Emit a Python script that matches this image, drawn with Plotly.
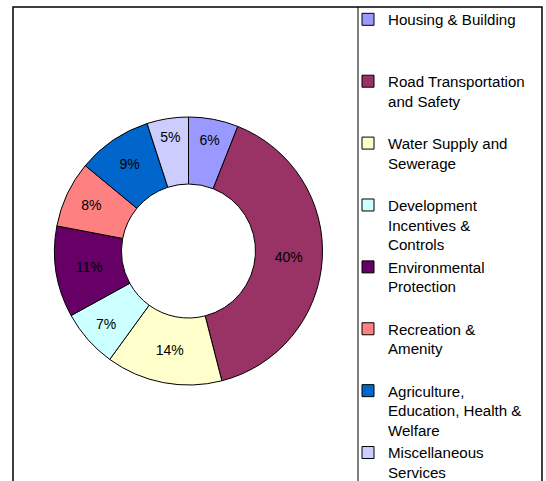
import plotly.graph_objects as go

# Data
categories = [
    "Housing & Building",
    "Road Transportation<br>and Safety",
    "Water Supply and<br>Sewerage",
    "Development<br>Incentives &<br>Controls",
    "Environmental<br>Protection",
    "Recreation &<br>Amenity",
    "Agriculture,<br>Education, Health &<br>Welfare",
    "Miscellaneous<br>Services",
]
shares = [6, 40, 14, 7, 11, 8, 9, 5]
colors = ["#9999FF", "#993366", "#FFFFCC", "#CCFFFF",
          "#660066", "#FF8080", "#0066CC", "#CCCCFF"]

W, H = 546, 481
FONT = "Liberation Sans, Arial, sans-serif"

# pad legend entries to equal slot height (3 lines), except the last one
legend_labels = []
for i, c in enumerate(categories):
    n = c.count("<br>") + 1
    pad = 0 if i == len(categories) - 1 else 3 - n
    legend_labels.append(c + "<br>\u00a0" * pad)

cx, cy, r = 188.5, 251, 134
fig = go.Figure(go.Pie(
    labels=legend_labels,
    values=shares,
    sort=False,
    direction="clockwise",
    rotation=0,
    hole=0.5,
    marker=dict(colors=colors, line=dict(color="black", width=1)),
    textinfo="percent",
    textposition="inside",
    insidetextorientation="horizontal",
    textfont=dict(family=FONT, size=14, color="black"),
    domain=dict(x=[(cx - r) / W, (cx + r) / W],
                y=[(H - cy - r) / H, (H - cy + r) / H]),
))

legend_cfg = dict(
    x=348 / W, xanchor="left",
    y=(H - 3) / H, yanchor="top",
    valign="top",
    font=dict(family=FONT, size=15.1, color="black"),
    bgcolor="rgba(0,0,0,0)",
    borderwidth=0,
    tracegroupgap=0,
)

fig.update_layout(
    width=W, height=H,
    margin=dict(l=0, r=0, t=0, b=0, autoexpand=False),
    paper_bgcolor="white",
    plot_bgcolor="white",
    showlegend=True,
    legend=legend_cfg,
    shapes=[
        dict(type="rect", xref="paper", yref="paper",
             x0=13 / W, x1=542 / W, y0=-0.2, y1=(H - 7) / H,
             line=dict(color="black", width=1.5), fillcolor="rgba(0,0,0,0)"),
        dict(type="line", xref="paper", yref="paper",
             x0=358 / W, x1=358 / W, y0=-0.2, y1=(H - 7) / H,
             line=dict(color="black", width=1)),
    ],
)
try:
    fig.update_layout(legend_maxheight=1000)
except Exception:
    pass

fig.write_html(
    "out.html",
    config={"displayModeBar": False},
    post_script="document.body.style.margin='0';document.body.style.overflow='hidden';",
)
